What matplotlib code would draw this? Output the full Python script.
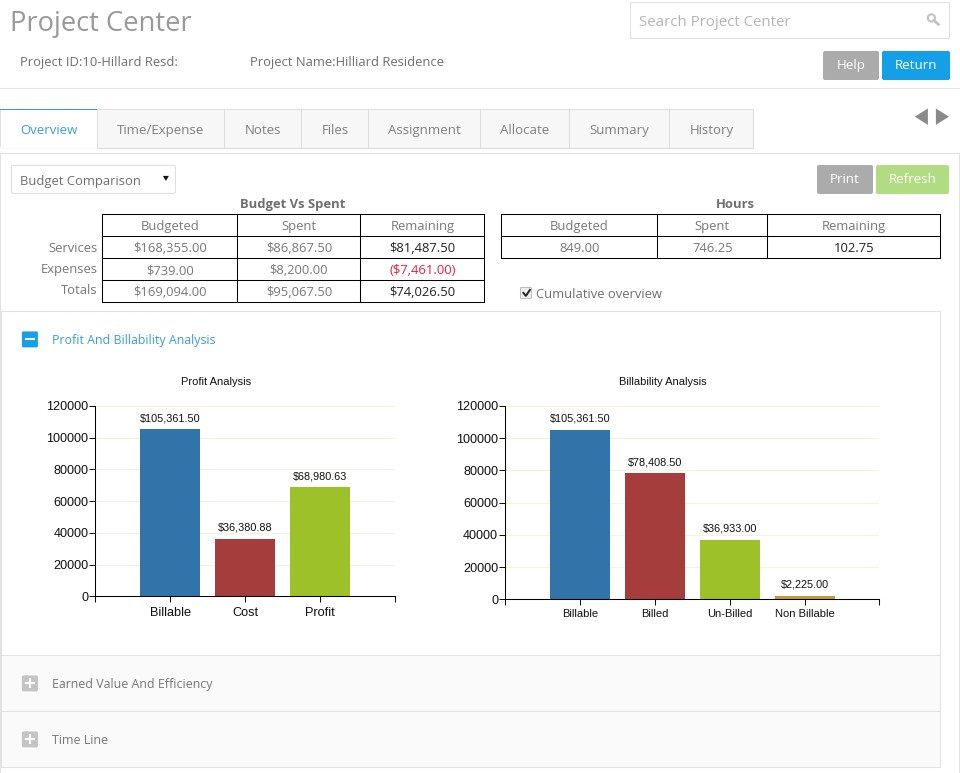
import matplotlib
matplotlib.use("Agg")
import matplotlib.pyplot as plt
from matplotlib.patches import Rectangle, FancyBboxPatch, Polygon, Circle

# Chart data
profit_labels = ["Billable", "Cost", "Profit"]
profit_values = [105361.50, 36380.88, 68980.63]
profit_texts = ["$105,361.50", "$36,380.88", "$68,980.63"]

bill_labels = ["Billable", "Billed", "Un-Billed", "Non Billable"]
bill_values = [105361.50, 78408.50, 36933.00, 2225.00]
bill_texts = ["$105,361.50", "$78,408.50", "$36,933.00", "$2,225.00"]

bar_colors = ["#3274aa", "#a53d3d", "#9dc128", "#c99a2e"]
y_ticks = [0, 20000, 40000, 60000, 80000, 100000, 120000]

# Table data
budget_head = ["Budgeted", "Spent", "Remaining"]
budget_rows = ["Services", "Expenses", "Totals"]
budget_cells = [
    ["$168,355.00", "$86,867.50", "$81,487.50"],
    ["$739.00", "$8,200.00", "($7,461.00)"],
    ["$169,094.00", "$95,067.50", "$74,026.50"],
]
hours_head = ["Budgeted", "Spent", "Remaining"]
hours_cells = [["849.00", "746.25", "102.75"]]

tabs = ["Overview", "Time/Expense", "Notes", "Files", "Assignment", "Allocate", "Summary", "History"]
tab_edges = [0.5, 97.5, 224.5, 301.5, 368.5, 480.5, 569.5, 669.5, 753.5]

W, H = 960, 773
GREY = "#6f6f6f"
UI_FONT = "Open Sans"
CHART_FONT = "Liberation Sans"
THIN = 0.75

fig = plt.figure(figsize=(W / 100, H / 100), dpi=100, facecolor="white")

# page chrome is drawn in pixel coordinates on one full size axes
# the small offset makes thin lines land on the same pixel rows as the screenshot
ui = fig.add_axes([0, 0, 1, 1])
ui.set_xlim(0.6, W + 0.6)
ui.set_ylim(H + 0.6, 0.6)
ui.axis("off")


def label(x, y, s, size=9.4, color=GREY, ha="left", weight="normal"):
    ui.text(x + 0.5, y + 2.5, s, fontsize=size, color=color, ha=ha, va="center", family=UI_FONT,
            fontweight=weight, zorder=5)


def box(x0, y0, x1, y1, face="white", edge="#e2e2e2", lw=THIN, z=1):
    ui.add_patch(Rectangle((x0, y0), x1 - x0, y1 - y0, facecolor=face, edgecolor=edge, linewidth=lw, zorder=z))


def button(x0, y0, x1, y1, s, face, text="white"):
    ui.add_patch(FancyBboxPatch((x0 + 2.6, y0 + 2.6), x1 - x0 - 4, y1 - y0 - 4, boxstyle="round,pad=2",
                                facecolor=face, edgecolor="none", zorder=2))
    ui.text((x0 + x1) / 2 + 0.5, (y0 + y1) / 2 + 0.8, s, fontsize=9.6, color=text, ha="center", va="center",
            family=UI_FONT, zorder=3)


def hline(y, x0=0, x1=W + 1, color="#e4e4e4", lw=THIN):
    ui.plot([x0, x1], [y, y], color=color, lw=lw, solid_capstyle="butt", zorder=1)


# Header
label(10, 22, "Project Center", size=19.7, color="#999999")
label(20, 60.5, "Project ID:10-Hillard Resd:", size=9.4)
label(250, 60.5, "Project Name:Hilliard Residence", size=9.4)
box(630.5, 2.5, 949.5, 38.5, edge="#e2e2e2")
label(639, 20.5, "Search Project Center", size=10.8, color="#b5b5b5")
ui.add_patch(Circle((932, 18.5), 3.6, facecolor="none", edgecolor="#c4c4c4", lw=1.5, zorder=3))
ui.plot([934.5, 939], [21, 25], color="#c4c4c4", lw=2, zorder=3)
button(823, 51, 879, 80, "Help", "#ababab")
button(882, 51, 950, 80, "Return", "#149fe6")
hline(88.5)

# Tabs
box(0.5, 153.5, 959.5, 780, edge="#e2e2e2")
for i, name in enumerate(tabs):
    x0, x1 = tab_edges[i], tab_edges[i + 1]
    active = i == 0
    box(x0, 109.5, x1, 148.5, face="white" if active else "#f7f7f7", edge="#dedede", z=2)
    label((x0 + x1) / 2, 128.5, name, size=9.5, ha="center", color="#3a9ddd" if active else "#808080")
ui.plot([1, 97], [109.5, 109.5], color="#3a9ddd", lw=THIN, zorder=3)
ui.plot([1, 97], [148.5, 148.5], color="white", lw=1.2, zorder=3)
ui.add_patch(Polygon([[928.5, 109], [928.5, 125.5], [915.5, 117.3]], facecolor="#8a8a8a", edgecolor="none"))
ui.add_patch(Polygon([[936.5, 109], [936.5, 125.5], [949.5, 117.3]], facecolor="#8a8a8a", edgecolor="none"))

# Toolbar
ui.add_patch(FancyBboxPatch((14, 168), 160, 24, boxstyle="round,pad=2", facecolor="white",
                            edgecolor="#dddddd", lw=THIN, zorder=2))
label(20, 179.5, "Budget Comparison", size=9.4)
ui.add_patch(Polygon([[163.5, 176.5], [169.5, 176.5], [166.5, 181.5]], facecolor="#111111", edgecolor="none", zorder=3))
button(817, 165, 873, 194, "Print", "#ababab")
button(876, 165, 949, 194, "Refresh", "#b2dc82")


def grid_table(xs, ys, head, cells):
    for x in xs:
        ui.plot([x, x], [ys[0], ys[-1]], color="black", lw=THIN, zorder=4, solid_capstyle="projecting")
    for y in ys:
        ui.plot([xs[0], xs[-1]], [y, y], color="black", lw=THIN, zorder=4, solid_capstyle="projecting")
    for c, s in enumerate(head):
        label((xs[c] + xs[c + 1]) / 2, (ys[0] + ys[1]) / 2 - 0.5, s, ha="center", color="#787878")
    for r, row in enumerate(cells):
        for c, s in enumerate(row):
            color = "#787878"
            if c == 2:
                color = "#ee1c3b" if s.startswith("(") else "#222222"
            label((xs[c] + xs[c + 1]) / 2, (ys[r + 1] + ys[r + 2]) / 2 - 0.5, s, ha="center", color=color)


# Budget tables
label(293, 203, "Budget Vs Spent", ha="center", weight="bold")
label(735.5, 203, "Hours", ha="center", weight="bold")
grid_table([102.5, 237.5, 360.5, 484.5], [214.5, 236.5, 258.5, 280.5, 302.5], budget_head, budget_cells)
grid_table([501.5, 657.5, 767.5, 940.5], [214.5, 236.5, 258.5], hours_head, hours_cells)
for y, s in zip([246.5, 267.5, 288.5], budget_rows):
    label(98, y, s, ha="right", color="#787878")

# Cumulative checkbox
ui.add_patch(FancyBboxPatch((522, 289), 9, 9, boxstyle="round,pad=1", facecolor="#eeeeee",
                            edgecolor="#b0b0b0", lw=0.6, zorder=3))
ui.plot([524, 526.5, 530.5], [293.5, 296.5, 290.5], color="#222222", lw=1.4, zorder=4)
label(536, 292.5, "Cumulative overview")

# Accordion
box(1.5, 311.5, 940.5, 655.5, z=1)
box(1.5, 655.5, 940.5, 711.5, face="#fafafa", z=1)
box(1.5, 711.5, 940.5, 767.5, face="#fafafa", z=1)


def toggle(y, s, face, text, sign):
    ui.add_patch(FancyBboxPatch((24, y - 6), 13, 13, boxstyle="round,pad=1.5", facecolor=face,
                                edgecolor="none", zorder=3))
    ui.plot([26.5, 34.5], [y + 0.5, y + 0.5], color="white", lw=1.5, zorder=4)
    if sign == "+":
        ui.plot([30.5, 30.5], [y - 3.5, y + 4.5], color="white", lw=1.5, zorder=4)
    label(52, y - 2.5 + 2, s, size=8.95, color=text)


toggle(339.5, "Profit And Billability Analysis", "#149fe6", "#3a9ddd", "-")
toggle(683.5, "Earned Value And Efficiency", "#c4c4c4", "#777777", "+")
toggle(739.5, "Time Line", "#c4c4c4", "#777777", "+")


def bar_chart(x0, x1, y0, y1, labels, values, texts, title, title_x, tick_size, xpad):
    ax = fig.add_axes([x0 / W, 1 - y1 / H, (x1 - x0) / W, (y1 - y0) / H])
    ax.patch.set_alpha(0)
    pos = list(range(1, len(labels) + 1))
    ax.bar(pos, values, width=0.8, color=bar_colors[:len(labels)], zorder=3)
    ax.set_xlim(0, len(labels) + 1)
    ax.set_ylim(0, 120000)
    ax.set_yticks(y_ticks)
    ax.set_xticks(range(0, len(labels) + 2))
    ax.set_xticklabels([""] + labels + [""], fontsize=tick_size, family=CHART_FONT)
    ax.tick_params(axis="y", labelsize=9.1, length=4, width=THIN, pad=1, colors="#111111")
    ax.tick_params(axis="x", length=4, width=THIN, pad=xpad, colors="#111111")
    for t in ax.get_yticklabels():
        t.set_family(CHART_FONT)
    ax.grid(axis="y", color="#fdeedd", lw=THIN, zorder=0)
    ax.set_axisbelow(True)
    for side in ["top", "right"]:
        ax.spines[side].set_visible(False)
    for side in ["left", "bottom"]:
        ax.spines[side].set_linewidth(THIN)
        ax.spines[side].set_zorder(4)
    for p, v, s in zip(pos, values, texts):
        ax.annotate(s, (p, v), xytext=(0, 4.2), textcoords="offset points", ha="center", va="bottom",
                    fontsize=7.8, family=CHART_FONT, color="#111111")
    ui.text(title_x, 382.5, title, fontsize=8, ha="center", va="center", family=CHART_FONT, color="#111111")


bar_chart(95.2, 395.2, 406, 596.3, profit_labels, profit_values, profit_texts, "Profit Analysis", 217, 9.2, 4)
bar_chart(505, 879.5, 406, 599.2, bill_labels, bill_values, bill_texts, "Billability Analysis", 663, 8, 3)

fig.savefig("out.png", dpi=100)
